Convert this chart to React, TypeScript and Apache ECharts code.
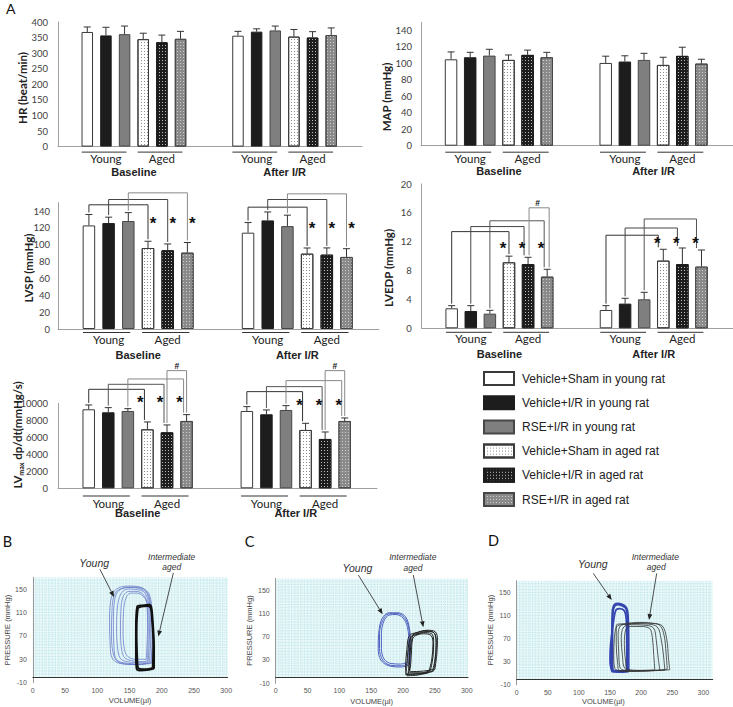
import React, { useEffect, useRef } from "react";
import * as echarts from "echarts";

// ---------- categories ----------
const treatments = [
  "Vehicle+Sham in young rat",
  "Vehicle+I/R in young rat",
  "RSE+I/R in young rat",
  "Vehicle+Sham in aged rat",
  "Vehicle+I/R in aged rat",
  "RSE+I/R in aged rat",
];
const phases = ["Baseline", "After I/R"];
const ageGroups = ["Young", "Aged"];

// ---------- panel A values (mean, SD) ----------
const hrBaseline = [368, 357, 361, 345, 335, 346];
const hrBaselineSD = [16, 26, 26, 19, 23, 24];
const hrAfter = [356, 369, 373, 353, 350, 358];
const hrAfterSD = [14, 9, 14, 23, 19, 23];

const mapBaseline = [105, 107.5, 109.5, 104.3, 110.4, 107.5];
const mapBaselineSD = [9, 6, 7.7, 6, 5.8, 6];
const mapAfter = [100.6, 102.3, 104.3, 98.2, 109.2, 99.8];
const mapAfterSD = [8.2, 7, 8, 9.3, 10.5, 5.3];

const lvspBaseline = [123, 125.8, 128.2, 96.2, 93.5, 90.7];
const lvspBaselineSD = [13, 7, 10, 8, 7.5, 12];
const lvspAfter = [114.4, 129, 122.2, 89.5, 88.3, 85.6];
const lvspAfterSD = [12, 10, 13, 6.7, 8, 9.8];

const lvedpBaseline = [2.77, 2.4, 2.03, 9.15, 8.9, 7.16];
const lvedpBaselineSD = [0.37, 0.74, 0.46, 0.85, 0.94, 1.02];
const lvedpAfter = [2.54, 3.42, 4.02, 9.38, 8.9, 8.55];
const lvedpAfterSD = [0.6, 0.74, 0.97, 1.57, 2.23, 2.3];

const lvmaxBaseline = [9294, 8941, 9098, 6941, 6588, 7922];
const lvmaxBaselineSD = [510, 549, 275, 863, 863, 745];
const lvmaxAfter = [9098, 8706, 9216, 6863, 5804, 7922];
const lvmaxAfterSD = [510, 510, 509, 784, 823, 353];

// ---------- significance brackets (phase, from bar, to bar, level) ----------
const lvspBrackets = [
  { phase: 0, from: 0, to: 3, y: 147.5, color: "#333" },
  { phase: 0, from: 1, to: 4, y: 153.8, color: "#444" },
  { phase: 0, from: 2, to: 5, y: 161.7, color: "#888" },
  { phase: 1, from: 0, to: 3, y: 144.7, color: "#333" },
  { phase: 1, from: 1, to: 4, y: 153.8, color: "#444" },
  { phase: 1, from: 2, to: 5, y: 160.5, color: "#888" },
];
const lvspMarks = [
  { phase: 0, bar: 3, y: 129.7, text: "*" },
  { phase: 0, bar: 4, y: 129.7, text: "*" },
  { phase: 0, bar: 5, y: 129.7, text: "*" },
  { phase: 1, bar: 3, y: 123, text: "*" },
  { phase: 1, bar: 4, y: 123, text: "*" },
  { phase: 1, bar: 5, y: 123, text: "*" },
];
const lvedpBrackets = [
  { phase: 0, from: 0, to: 3, y: 13.4, color: "#333" },
  { phase: 0, from: 1, to: 4, y: 14.1, color: "#444", toDx: -4 },
  { phase: 0, from: 2, to: 5, y: 14.9, color: "#555", toDx: -3 },
  { phase: 0, from: 4, to: 5, y: 16.7, color: "#888", fromDx: 1, toDx: 2 },
  { phase: 1, from: 0, to: 3, y: 12.9, color: "#333", toDx: -5 },
  { phase: 1, from: 1, to: 4, y: 13.9, color: "#444", toDx: -5 },
  { phase: 1, from: 2, to: 5, y: 15.15, color: "#555", toDx: -5 },
];
const lvedpMarks = [
  { phase: 0, bar: 3, y: 11.5, text: "*" },
  { phase: 0, bar: 4, y: 11.5, text: "*" },
  { phase: 0, bar: 5, y: 11.5, text: "*" },
  { phase: 0, bar: 4.5, y: 17.4, text: "#" },
  { phase: 1, bar: 3, y: 12.2, text: "*" },
  { phase: 1, bar: 4, y: 12.2, text: "*" },
  { phase: 1, bar: 5, y: 12.2, text: "*" },
];
const lvmaxBrackets = [
  { phase: 0, from: 0, to: 3, y: 11647, color: "#333", toDx: -3 },
  { phase: 0, from: 1, to: 4, y: 12235, color: "#555", toDx: -3 },
  { phase: 0, from: 2, to: 5, y: 12863, color: "#888", toDx: -3 },
  { phase: 0, from: 4, to: 5, y: 13843, color: "#888" },
  { phase: 1, from: 0, to: 3, y: 11373, color: "#333", toDx: -3 },
  { phase: 1, from: 1, to: 4, y: 11961, color: "#555", toDx: -3 },
  { phase: 1, from: 2, to: 5, y: 12667, color: "#888", toDx: -3 },
  { phase: 1, from: 4, to: 5, y: 13843, color: "#888" },
];
const lvmaxMarks = [
  { phase: 0, bar: 3, y: 10470, text: "*" },
  { phase: 0, bar: 4, y: 10470, text: "*" },
  { phase: 0, bar: 5, y: 10470, text: "*" },
  { phase: 0, bar: 4.5, y: 14392, text: "#" },
  { phase: 1, bar: 3, y: 10196, text: "*" },
  { phase: 1, bar: 4, y: 10196, text: "*" },
  { phase: 1, bar: 5, y: 10196, text: "*" },
  { phase: 1, bar: 4.5, y: 14392, text: "#" },
];

// ---------- pressure-volume loops (volume µl, pressure mmHg) ----------
const pvBYoung = [
  [[183, 24], [185, 60], [184, 105], [180, 138], [170, 152], [150, 155], [133, 152], [123, 140], [119, 100], [120, 55], [124, 30], [140, 22], [165, 21], [183, 24]],
  [[181, 25], [183, 70], [182, 115], [177, 142], [165, 151], [147, 153], [134, 148], [127, 132], [125, 90], [126, 50], [130, 29], [148, 23], [168, 22], [181, 25]],
  [[179, 26], [181, 75], [180, 120], [174, 143], [162, 149], [148, 150], [138, 144], [132, 125], [130, 85], [132, 45], [137, 30], [152, 25], [170, 24], [179, 26]],
  [[178, 28], [179, 80], [178, 122], [172, 140], [160, 146], [149, 146], [141, 139], [137, 120], [136, 80], [138, 45], [143, 32], [157, 27], [172, 26], [178, 28]],
  [[184, 23], [186, 65], [185, 110], [181, 140], [172, 150], [155, 153], [140, 151], [129, 145], [123, 120], [122, 70], [126, 35], [135, 24], [160, 21], [184, 23]],
  [[176, 30], [178, 85], [177, 125], [171, 138], [161, 143], [152, 143], [145, 136], [141, 115], [140, 80], [142, 48], [147, 35], [160, 30], [176, 30]],
];
const pvBAged = [
  [[188, 14], [188, 50], [186, 95], [184, 118], [181, 123], [170, 122], [162, 120], [160, 80], [160, 35], [161, 14], [166, 11], [180, 12], [188, 14]],
  [[186, 16], [187, 55], [185, 98], [183, 117], [179, 121], [168, 120], [163, 117], [161, 75], [162, 30], [163, 16], [170, 13], [182, 14], [186, 16]],
];
const pvCYoung = [
  [[209, 24], [211, 55], [209, 85], [202, 103], [190, 110], [177, 109], [168, 98], [163, 75], [163, 50], [168, 30], [180, 21], [197, 20], [209, 24]],
  [[207, 26], [209, 58], [207, 86], [200, 102], [189, 108], [178, 107], [170, 97], [166, 75], [166, 50], [170, 32], [181, 24], [196, 23], [207, 26]],
  [[211, 22], [212, 52], [210, 84], [204, 104], [192, 111], [178, 111], [167, 101], [162, 78], [161, 50], [165, 30], [178, 20], [197, 18], [211, 22]],
];
const pvCAged = [
  [[246, 10], [250, 30], [252, 55], [250, 75], [240, 79], [225, 76], [213, 71], [208, 50], [206, 20], [204, 5], [225, 6], [246, 10]],
  [[243, 12], [247, 35], [248, 60], [246, 74], [235, 77], [222, 74], [212, 68], [210, 45], [209, 18], [208, 8], [228, 8], [243, 12]],
  [[240, 8], [245, 30], [247, 58], [244, 72], [232, 75], [220, 72], [215, 66], [213, 40], [211, 15], [206, 3], [222, 4], [240, 8]],
  [[250, 14], [253, 40], [254, 64], [251, 78], [238, 81], [224, 78], [216, 73], [212, 52], [210, 22], [212, 10], [232, 11], [250, 14]],
  [[248, 11], [251, 33], [252, 60], [249, 76], [237, 80], [222, 77], [210, 72], [206, 48], [204, 18], [206, 6], [228, 7], [248, 11]],
];
const pvDYoung = [
  [[180, 13], [180, 60], [179, 110], [177, 122], [172, 128], [163, 131], [157, 129], [154, 120], [153, 80], [152, 30], [153, 13], [165, 12], [180, 13]],
  [[178, 14], [179, 62], [178, 108], [176, 121], [171, 126], [163, 129], [158, 127], [155, 118], [154, 80], [154, 32], [155, 15], [166, 13], [178, 14]],
  [[177, 15], [177, 60], [176, 105], [173, 118], [166, 122], [160, 120], [157, 110], [151, 60], [150, 35], [153, 16], [165, 14], [177, 15]],
];
const pvDAged = [
  [[246, 16], [244, 35], [241, 70], [234, 92], [220, 96], [200, 97], [180, 95], [162, 92], [157, 70], [156, 40], [158, 18], [170, 13], [210, 14], [246, 16]],
  [[238, 15], [236, 40], [232, 70], [226, 90], [212, 95], [190, 96], [168, 93], [163, 75], [164, 45], [166, 20], [180, 14], [238, 15]],
  [[230, 15], [227, 40], [224, 70], [220, 88], [208, 93], [185, 94], [172, 90], [168, 70], [170, 40], [174, 18], [190, 14], [230, 15]],
  [[222, 16], [220, 45], [218, 72], [214, 87], [200, 91], [183, 91], [175, 85], [173, 60], [175, 30], [178, 17], [200, 15], [222, 16]],
  [[242, 17], [240, 45], [237, 75], [230, 93], [215, 97], [195, 98], [175, 96], [160, 93], [160, 60], [162, 30], [165, 15], [200, 14], [242, 17]],
];
// annotation arrows [fromX, fromY, toX, toY]
const pvBArrows = [[104, 184, 126, 136.4], [218, 177.5, 194.7, 68.8]];
const pvCArrows = [[129.7, 175.8, 168, 108.4], [216.1, 175.8, 231.8, 86.1]];
const pvDArrows = [[123.1, 182.9, 152.7, 136.7], [225, 182.9, 212.6, 102]];

// ---------- styles / layout ----------
const FONT_CAL = "Lato, 'Open Sans', sans-serif";
const FONT_ARIAL = "'Liberation Sans', Arial, sans-serif";
const PHASE_START = [1.57, 9.65];
const X_MAX = 16.3;
const barX = (phase: number, k: number) => PHASE_START[phase] + k;

const dots = (color: string) => ({
  symbol: "rect",
  symbolSize: 1,
  dashArrayX: [1, 2],
  dashArrayY: [1, 2],
  rotation: 0,
  color,
});
const barStyles: any[] = [
  { color: "#ffffff", borderColor: "#3a3a3a", borderWidth: 1 },
  { color: "#1d1d1d", borderColor: "#1d1d1d", borderWidth: 1 },
  { color: "#7f7f7f", borderColor: "#474747", borderWidth: 1 },
  { color: "#ffffff", borderColor: "#3a3a3a", borderWidth: 1, decal: dots("#8c8c8c") },
  { color: "#1d1d1d", borderColor: "#1d1d1d", borderWidth: 1, decal: dots("rgba(255,255,255,0.7)") },
  { color: "#8a8a8a", borderColor: "#474747", borderWidth: 1, decal: dots("#cdcdcd") },
];

const barPanels: any[] = [
  { title: "HR (beat/min)", tx: 22, ty: 88, left: 58, top: 22, width: 304, height: 124.6, max: 400, interval: 50, margin: 10, bw: 11.5, ul: 5.5, grp: 11.5, ph: 25, base: hrBaseline, baseSD: hrBaselineSD, after: hrAfter, afterSD: hrAfterSD, brackets: [], marks: [], starDx: [0, 0] },
  { title: "MAP (mmHg)", tx: 386, ty: 97, left: 421, top: 22.3, width: 312, height: 123.4, max: 150, interval: 20, margin: 9, bw: 12.5, ul: 6.5, grp: 13, ph: 25, base: mapBaseline, baseSD: mapBaselineSD, after: mapAfter, afterSD: mapAfterSD, brackets: [], marks: [], starDx: [0, 0] },
  { title: "LVSP (mmHg)", tx: 28, ty: 268, left: 58, top: 202.7, width: 321, height: 126.3, max: 150, interval: 20, margin: 8, bw: 12.5, ul: 3.5, grp: 10.5, ph: 26, base: lvspBaseline, baseSD: lvspBaselineSD, after: lvspAfter, afterSD: lvspAfterSD, brackets: lvspBrackets, marks: lvspMarks, starDx: [5, 5] },
  { title: "LVEDP (mmHg)", tx: 388, ty: 268, left: 421.7, top: 184, width: 311.3, height: 144.3, max: 20, interval: 4, margin: 10, bw: 12.5, ul: 4, grp: 10, ph: 25.7, base: lvedpBaseline, baseSD: lvedpBaselineSD, after: lvedpAfter, afterSD: lvedpAfterSD, brackets: lvedpBrackets, marks: lvedpMarks, starDx: [-6, -6] },
  { title: "LVMAX", tx: 17, ty: 435, left: 58, top: 403.3, width: 319, height: 85, max: 10000, interval: 2000, margin: 10, bw: 12.5, ul: 7.7, grp: 15, ph: 24.4, base: lvmaxBaseline, baseSD: lvmaxBaselineSD, after: lvmaxAfter, afterSD: lvmaxAfterSD, brackets: lvmaxBrackets, marks: lvmaxMarks, starDx: [-7, -6] },
];

const pvPanels: any[] = [
  { left: 32.8, top: 577.3, width: 194.7, height: 105.4, xMax: 302, young: pvBYoung, aged: pvBAged, yc: "#5f6fc4", yw: 0.7, ac: "#111", aw: 2, arrows: pvBArrows },
  { left: 275.7, top: 578.4, width: 192.3, height: 104.9, xMax: 302, young: pvCYoung, aged: pvCAged, yc: "#4f62c0", yw: 1, ac: "#222", aw: 1, arrows: pvCArrows },
  { left: 516.7, top: 580.8, width: 196, height: 104, xMax: 315, young: pvDYoung, aged: pvDAged, yc: "#3545b0", yw: 1.8, ac: "#333", aw: 0.8, arrows: pvDArrows },
];

const topOf = (p: any, ph: number, k: number) =>
  ph === 0 ? p.base[k] + p.baseSD[k] : p.after[k] + p.afterSD[k];

function txt(x: number, y: number, text: string, extra: any = {}, rotation = 0) {
  const { fontSize = 11, fontWeight = "normal", fontStyle = "normal", fontFamily = FONT_ARIAL, fill = "#222", rich } = extra;
  return {
    type: "text",
    x,
    y,
    rotation,
    silent: true,
    style: { text, fontSize, fontWeight, fontStyle, fontFamily, fill, align: "center", verticalAlign: "middle", rich },
  };
}

function buildOption() {
  const grid: any[] = [];
  const xAxis: any[] = [];
  const yAxis: any[] = [];
  const series: any[] = [];
  const graphic: any[] = [];

  barPanels.forEach((p, i) => {
    grid.push({ left: p.left, top: p.top, width: p.width, height: p.height, outerBoundsMode: "none" });
    xAxis.push({
      type: "value", gridIndex: i, min: 0, max: X_MAX,
      axisLine: { show: true, onZero: false, lineStyle: { color: "#a0a0a0", width: 1 } },
      axisTick: { show: false }, axisLabel: { show: false }, splitLine: { show: false },
    });
    yAxis.push({
      type: "value", gridIndex: i, min: 0, max: p.max, interval: p.interval,
      axisLine: { show: true, lineStyle: { color: "#a0a0a0", width: 1 } },
      axisTick: { show: false }, splitLine: { show: false },
      axisLabel: {
        margin: p.margin, fontSize: 9.5, fontFamily: FONT_CAL, color: "#404040",
        formatter: (v: number) => (v % p.interval === 0 ? String(v) : ""),
      },
    });
    treatments.forEach((t, k) => {
      series.push({
        type: "bar", name: t, xAxisIndex: i, yAxisIndex: i, barWidth: p.bw, barGap: "-100%",
        itemStyle: barStyles[k], z: 2, silent: true,
        data: [[barX(0, k), p.base[k]], [barX(1, k), p.after[k]]],
      });
    });
    // error bars
    const errData: any[] = [];
    [0, 1].forEach((ph) =>
      treatments.forEach((_, k) => {
        errData.push([barX(ph, k), ph === 0 ? p.base[k] : p.after[k], ph === 0 ? p.baseSD[k] : p.afterSD[k]]);
      })
    );
    series.push({
      type: "custom", xAxisIndex: i, yAxisIndex: i, z: 3, silent: true, clip: false,
      encode: { x: 0, y: 1 }, data: errData,
      renderItem: (params: any, api: any) => {
        const x = api.value(0), m = api.value(1), sd = api.value(2);
        const a = api.coord([x, m]);
        const b = api.coord([x, m + sd]);
        return {
          type: "group",
          children: [
            { type: "line", shape: { x1: a[0], y1: a[1], x2: b[0], y2: b[1] }, style: { stroke: "#333", lineWidth: 1 } },
            { type: "line", shape: { x1: b[0] - 3.5, y1: b[1], x2: b[0] + 3.5, y2: b[1] }, style: { stroke: "#333", lineWidth: 1 } },
          ],
        };
      },
    });
    // group underlines and labels
    const grpData: any[] = [];
    [0, 1].forEach((ph) => [0, 1].forEach((g) => grpData.push([barX(ph, g * 3), 0, ph, g])));
    series.push({
      type: "custom", xAxisIndex: i, yAxisIndex: i, z: 3, silent: true, clip: false,
      encode: { x: 0, y: 1 }, data: grpData,
      renderItem: (params: any, api: any) => {
        const ph = api.value(2), g = api.value(3);
        const c0 = api.coord([barX(ph, g * 3), 0]);
        const c2 = api.coord([barX(ph, g * 3 + 2), 0]);
        const w = api.size([1, 0])[0];
        const y0 = c0[1];
        const children: any[] = [
          { type: "line", shape: { x1: c0[0] - 0.3 * w, y1: y0 + p.ul, x2: c2[0] + 0.1 * w, y2: y0 + p.ul }, style: { stroke: "#333", lineWidth: 1 } },
          { type: "text", x: (c0[0] + c2[0]) / 2, y: y0 + p.grp, style: { text: ageGroups[g], fontSize: 11.5, fontFamily: FONT_CAL, fill: "#222", align: "center", verticalAlign: "middle" } },
        ];
        if (g === 0) {
          const a = api.coord([barX(ph, 0), 0]);
          const b = api.coord([barX(ph, 5), 0]);
          children.push({ type: "text", x: (a[0] + b[0]) / 2, y: y0 + p.ph, style: { text: phases[ph], fontSize: 11, fontWeight: "bold", fontFamily: FONT_ARIAL, fill: "#222", align: "center", verticalAlign: "middle" } });
        }
        return { type: "group", children };
      },
    });
    // brackets
    if (p.brackets.length) {
      series.push({
        type: "custom", xAxisIndex: i, yAxisIndex: i, z: 4, silent: true, clip: false,
        encode: { x: 0, y: 1 },
        data: p.brackets.map((b: any) => [barX(b.phase, b.from), b.y]),
        renderItem: (params: any, api: any) => {
          const b = p.brackets[params.dataIndex];
          const fx = b.fromDx || 0, tx = b.toDx || 0;
          const a = api.coord([barX(b.phase, b.from), b.y]);
          const c = api.coord([barX(b.phase, b.to), b.y]);
          const a0 = api.coord([barX(b.phase, b.from), topOf(p, b.phase, b.from)]);
          const c0 = api.coord([barX(b.phase, b.to), topOf(p, b.phase, b.to)]);
          return {
            type: "polyline",
            shape: { points: [[a[0] + fx, a0[1] - 2], [a[0] + fx, a[1]], [c[0] + tx, c[1]], [c[0] + tx, c0[1] - 2]] },
            style: { stroke: b.color, lineWidth: 1, fill: null },
          };
        },
      });
      series.push({
        type: "custom", xAxisIndex: i, yAxisIndex: i, z: 5, silent: true, clip: false,
        encode: { x: 0, y: 1 },
        data: p.marks.map((m: any) => [barX(m.phase, m.bar), m.y]),
        renderItem: (params: any, api: any) => {
          const m = p.marks[params.dataIndex];
          const c = api.coord([api.value(0), api.value(1)]);
          const star = m.text === "*";
          return {
            type: "text",
            x: c[0] + (star ? p.starDx[m.phase] : 0),
            y: c[1] + (star ? 3.5 : 0),
            style: { text: m.text, fontSize: star ? 17 : 8.5, fontWeight: "bold", fontFamily: FONT_ARIAL, fill: "#111", align: "center", verticalAlign: "middle" },
          };
        },
      });
    }
    // axis title
    if (p.title === "LVMAX") {
      graphic.push(
        txt(p.tx, p.ty, "{b|LV}{s|max}{b| dp/dt(mmHg/s)}", {
          rich: {
            b: { fontSize: 11.5, fontWeight: "bold", fontFamily: FONT_CAL, fill: "#222", lineHeight: 14 },
            s: { fontSize: 7, fontWeight: "bold", fontFamily: FONT_CAL, fill: "#222", lineHeight: 14, verticalAlign: "bottom" },
          },
        }, Math.PI / 2)
      );
    } else {
      graphic.push(txt(p.tx, p.ty, p.title, { fontSize: 11.5, fontWeight: "bold", fontFamily: FONT_CAL }, Math.PI / 2));
    }
  });

  // ---------- P-V loop panels ----------
  pvPanels.forEach((p, j) => {
    const gi = barPanels.length + j;
    grid.push({ left: p.left, top: p.top, width: p.width, height: p.height, outerBoundsMode: "none" });
    xAxis.push({
      type: "value", gridIndex: gi, min: 0, max: p.xMax, interval: 50,
      axisLine: { show: true, onZero: true, lineStyle: { color: "#333", width: 1 } },
      axisTick: { show: false }, splitLine: { show: false },
      axisLabel: { margin: 4, fontSize: 7, fontFamily: FONT_ARIAL, color: "#555", formatter: (v: number) => (v % 50 === 0 ? String(v) : "") },
    });
    yAxis.push({
      type: "value", gridIndex: gi, min: -10, max: 170, interval: 40,
      axisLine: { show: true, lineStyle: { color: "#999", width: 1 } },
      axisTick: { show: false }, splitLine: { show: false },
      axisLabel: { margin: 6, fontSize: 7, fontFamily: FONT_ARIAL, color: "#555", formatter: (v: number) => (v === 170 ? "" : String(v)) },
    });
    // cyan chart-paper background
    series.push({
      type: "custom", xAxisIndex: gi, yAxisIndex: gi, z: 0, silent: true, clip: false,
      encode: { x: 0, y: 1 }, data: [[0, 0]],
      renderItem: (params: any, api: any) => {
        const p0 = api.coord([0, 0]);
        const p1 = api.coord([p.xMax, 170]);
        const children: any[] = [
          { type: "rect", shape: { x: p0[0], y: p1[1], width: p1[0] - p0[0], height: p0[1] - p1[1] }, style: { fill: "#eaf8f9" } },
        ];
        for (let v = 5; v < p.xMax; v += 5) {
          const a = api.coord([v, 0]);
          children.push({ type: "line", shape: { x1: a[0], y1: p0[1], x2: a[0], y2: p1[1] }, style: { stroke: "#a3dce1", lineWidth: 0.6, lineDash: [1, 1.2] } });
        }
        for (let v = 5; v < 170; v += 5) {
          const a = api.coord([0, v]);
          children.push({ type: "line", shape: { x1: p0[0], y1: a[1], x2: p1[0], y2: a[1] }, style: { stroke: "#a3dce1", lineWidth: 0.6, lineDash: [1, 1.2] } });
        }
        return { type: "group", children };
      },
    });
    p.young.forEach((loop: any) =>
      series.push({ type: "line", xAxisIndex: gi, yAxisIndex: gi, data: loop, smooth: 0.35, symbol: "none", silent: true, clip: false, z: 2, lineStyle: { color: p.yc, width: p.yw } })
    );
    p.aged.forEach((loop: any) =>
      series.push({ type: "line", xAxisIndex: gi, yAxisIndex: gi, data: loop, smooth: 0.35, symbol: "none", silent: true, clip: false, z: 3, lineStyle: { color: p.ac, width: p.aw } })
    );
    // arrows
    series.push({
      type: "custom", xAxisIndex: gi, yAxisIndex: gi, z: 6, silent: true, clip: false,
      encode: { x: [0, 2], y: [1, 3] }, data: p.arrows,
      renderItem: (params: any, api: any) => {
        const a = api.coord([api.value(0), api.value(1)]);
        const b = api.coord([api.value(2), api.value(3)]);
        const ang = Math.atan2(b[1] - a[1], b[0] - a[0]);
        const L = 6, W = 2.4;
        const bx = b[0] - L * Math.cos(ang), by = b[1] - L * Math.sin(ang);
        const nx = -Math.sin(ang) * W, ny = Math.cos(ang) * W;
        return {
          type: "group",
          children: [
            { type: "line", shape: { x1: a[0], y1: a[1], x2: bx, y2: by }, style: { stroke: "#222", lineWidth: 0.8 } },
            { type: "polygon", shape: { points: [[b[0], b[1]], [bx + nx, by + ny], [bx - nx, by - ny]] }, style: { fill: "#222" } },
          ],
        };
      },
    });
  });

  // ---------- texts ----------
  graphic.push(txt(10.8, 8.7, "A", { fontSize: 14, fontFamily: FONT_CAL, fill: "#111" }));
  graphic.push(txt(7.5, 541, "B", { fontSize: 14.5, fontFamily: FONT_CAL, fill: "#111" }));
  graphic.push(txt(249.5, 541, "C", { fontSize: 14.5, fontFamily: FONT_CAL, fill: "#111" }));
  graphic.push(txt(493.5, 540.5, "D", { fontSize: 14.5, fontFamily: FONT_CAL, fill: "#111" }));

  const small = { fontSize: 7.5, fill: "#444" };
  graphic.push(txt(130, 700, "VOLUME(µl)", small));
  graphic.push(txt(371.7, 701.5, "VOLUME(µl)", small));
  graphic.push(txt(603.3, 701.5, "VOLUME(µl)", small));
  graphic.push(txt(7, 630, "PRESSURE (mmHg)", small, Math.PI / 2));
  graphic.push(txt(249.5, 630.5, "PRESSURE (mmHg)", small, Math.PI / 2));
  graphic.push(txt(490.5, 630, "PRESSURE (mmHg)", small, Math.PI / 2));

  const ital = { fontSize: 10.5, fontStyle: "italic", fill: "#333" };
  const ital2 = { fontSize: 8.5, fontStyle: "italic", fill: "#333" };
  const bold9 = { fontSize: 9, fontWeight: "bold", fill: "#333" };
  graphic.push(txt(94.2, 563, "Young", ital));
  graphic.push(txt(171.7, 556.7, "Intermediate", ital2));
  graphic.push(txt(171.7, 567.3, "aged", ital2));
  graphic.push(txt(63.8, 588.3, "Sham", bold9));
  graphic.push(txt(201.7, 588.3, "Vehicle", bold9));

  graphic.push(txt(357.5, 567.5, "Young", ital));
  graphic.push(txt(412.8, 557.3, "Intermediate", ital2));
  graphic.push(txt(413, 568.3, "aged", ital2));
  graphic.push(txt(305.8, 590, "I/R", bold9));
  graphic.push(txt(438.3, 590.7, "Vehicle", bold9));

  graphic.push(txt(592.8, 564.2, "Young", ital));
  graphic.push(txt(655.3, 557, "Intermediate", ital2));
  graphic.push(txt(656.2, 567.3, "aged", ital2));
  graphic.push(txt(549.5, 592.7, "I/R", bold9));
  graphic.push(txt(686.7, 591.7, "RSE", bold9));

  return {
    animation: false,
    backgroundColor: "#ffffff",
    grid,
    xAxis,
    yAxis,
    series,
    graphic: { elements: graphic },
    legend: {
      data: treatments,
      orient: "vertical",
      left: 483,
      top: 371,
      padding: 0,
      itemWidth: 30,
      itemHeight: 13,
      itemGap: 9.2,
      icon: "rect",
      selectedMode: false,
      textStyle: { fontFamily: FONT_ARIAL, fontSize: 12, color: "#222", padding: [0, 0, 0, 3] },
    },
  };
}

export default function App() {
  const ref = useRef<HTMLDivElement>(null);
  useEffect(() => {
    const chart = echarts.init(ref.current as HTMLDivElement, undefined, { renderer: "svg" });
    chart.setOption(buildOption() as any);
    return () => chart.dispose();
  }, []);
  return (
    <div
      ref={ref}
      style={{ position: "absolute", left: 0, top: 0, width: 733, height: 707, background: "#fff" }}
    />
  );
}
